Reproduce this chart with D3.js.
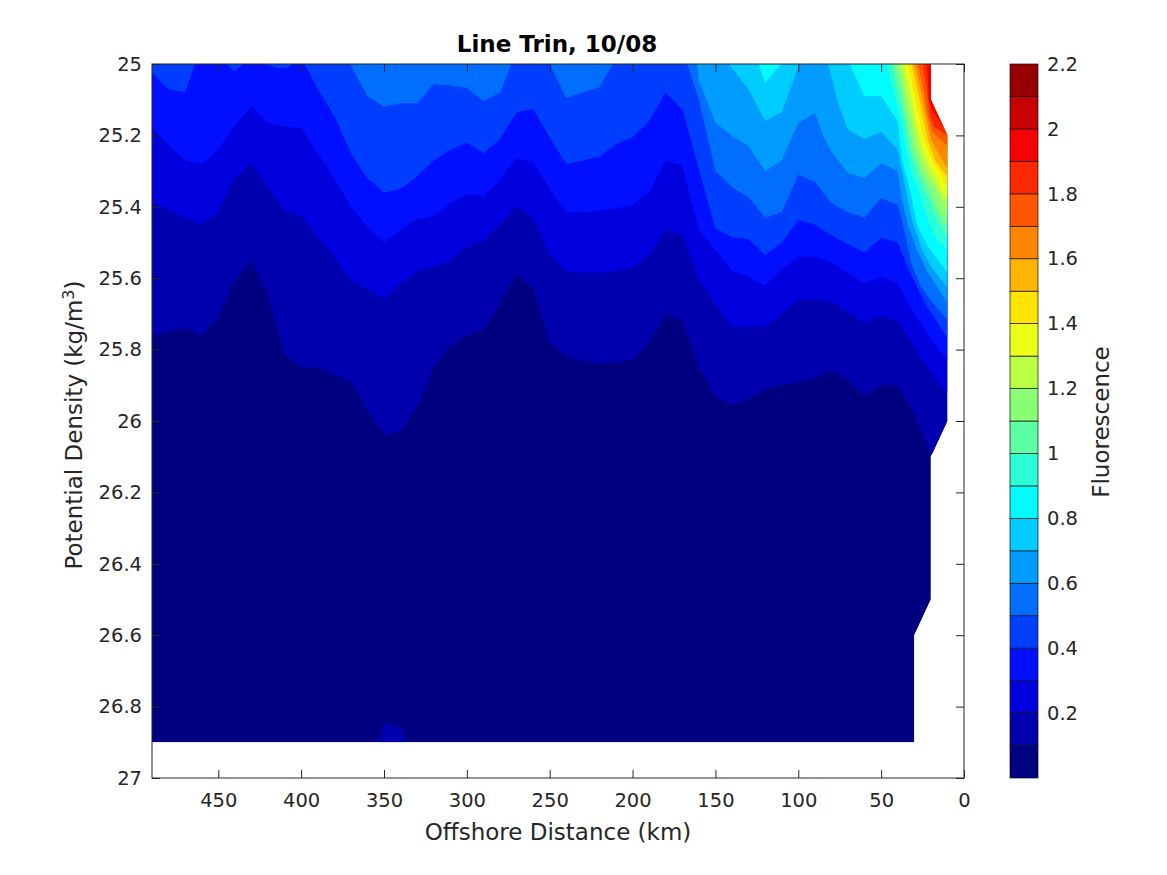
<!DOCTYPE html>
<html>
<head>
<meta charset="utf-8">
<script src="https://cdn.jsdelivr.net/npm/d3@7"></script>
<style>
  html, body { margin: 0; background: #fff; }
  svg { display: block; font-family: "DejaVu Sans", sans-serif; }
  .axis text { fill: #262626; font-size: 19.5px; font-family: "DejaVu Sans", sans-serif; }
  .axis path, .axis line { stroke: #262626; stroke-width: 1; }
</style>
</head>
<body>
<svg id="chart" width="1167" height="875"></svg>
<script>
// ----------- DATA -----------
// all contours are [offshore distance km, potential density]
const xTicks = [450, 400, 350, 300, 250, 200, 150, 100, 50, 0];
const yTicks = [25, 25.2, 25.4, 25.6, 25.8, 26, 26.2, 26.4, 26.6, 26.8, 27];
const cbTicks = [0.2, 0.4, 0.6, 0.8, 1, 1.2, 1.4, 1.6, 1.8, 2, 2.2];
const cbEdges = [0, 0.1, 0.2, 0.3, 0.4, 0.5, 0.6, 0.7, 0.8, 0.9, 1, 1.1, 1.2, 1.3, 1.4, 1.5, 1.6, 1.7, 1.8, 1.9, 2, 2.1, 2.2];

// where the section has data
const domainOutline = [[490,25],[20,25],[20,25.1],[10,25.2],[10,26],[20,26.1],[20,26.5],[30,26.6],[30,26.9],[490,26.9]];

// small patch of higher values at the bottom
const bottomPatch = [[353.6,26.9],[349.4,26.846],[338.6,26.86],[337.4,26.9]];

const contour01 = [[[490,25.76],[480,25.75],[470,25.74],[460,25.76],[450,25.71],[440,25.61],[430,25.55],[420,25.65],[410,25.81],[400,25.85],[390,25.85],[380,25.87],[370,25.89],[360,25.97],[350,26.04],[340,26.03],[330,25.96],[320,25.85],[310,25.79],[300,25.76],[290,25.745],[280,25.67],[270,25.59],[260,25.63],[250,25.78],[240,25.82],[230,25.83],[220,25.84],[210,25.835],[200,25.83],[190,25.78],[180,25.70],[170,25.72],[160,25.85],[150,25.93],[140,25.955],[130,25.94],[120,25.91],[110,25.90],[100,25.89],[90,25.88],[80,25.86],[70,25.885],[60,25.93],[50,25.90],[40,25.90],[30,25.98],[20,26.09],[10,26.15]]];

const contour02 = [[[490,25.39],[480,25.41],[470,25.43],[460,25.45],[450,25.415],[440,25.32],[430,25.28],[420,25.345],[410,25.41],[400,25.425],[390,25.485],[380,25.54],[370,25.605],[360,25.63],[350,25.66],[340,25.615],[330,25.58],[320,25.57],[310,25.55],[300,25.51],[290,25.495],[280,25.45],[270,25.40],[260,25.43],[250,25.535],[240,25.58],[230,25.585],[220,25.585],[210,25.58],[200,25.57],[190,25.535],[180,25.465],[170,25.48],[160,25.605],[150,25.675],[140,25.735],[130,25.735],[120,25.735],[110,25.70],[100,25.66],[90,25.66],[80,25.665],[70,25.695],[60,25.725],[50,25.705],[40,25.72],[30,25.795],[20,25.865],[10,25.92]]];

const contour03 = [[[490,25.18],[480,25.225],[470,25.27],[460,25.28],[450,25.24],[440,25.17],[430,25.12],[420,25.165],[410,25.175],[400,25.18],[390,25.25],[380,25.32],[370,25.40],[360,25.455],[350,25.50],[340,25.465],[330,25.435],[320,25.425],[310,25.39],[300,25.365],[290,25.37],[280,25.325],[270,25.265],[260,25.275],[250,25.35],[240,25.415],[230,25.415],[220,25.41],[210,25.405],[200,25.395],[190,25.36],[180,25.27],[170,25.285],[160,25.465],[150,25.52],[140,25.58],[130,25.595],[120,25.62],[110,25.575],[100,25.54],[90,25.54],[80,25.555],[70,25.585],[60,25.615],[50,25.595],[40,25.615],[30,25.70],[20,25.77],[10,25.83]]];

const contour04 = [
  [[490,25.025],[480,25.07],[470,25.08],[464,25]],
  [[445,25],[440,25.02],[435,25]],
  [[422,25],[414,25.012],[408,25.01],[405,25]],
  [[398,25],[390,25.07],[380,25.145],[370,25.25],[360,25.32],[350,25.36],[340,25.35],[330,25.315],[320,25.27],[310,25.24],[300,25.22],[290,25.25],[280,25.21],[270,25.135],[260,25.125],[250,25.205],[240,25.28],[230,25.27],[220,25.26],[210,25.225],[200,25.205],[190,25.16],[180,25.08],[170,25.125],[160,25.295],[150,25.46],[140,25.485],[130,25.49],[120,25.535],[110,25.50],[100,25.437],[90,25.45],[80,25.48],[70,25.505],[60,25.527],[50,25.487],[40,25.50],[32.6,25.585],[22.3,25.68],[10,25.767]]
];

const contour05 = [
  [[370.5,25],[360,25.09],[350,25.12],[340,25.11],[330,25.11],[320,25.056],[310,25.06],[300,25.067],[290,25.104],[280,25.08],[273,25]],
  [[250,25],[240,25.095],[230,25.08],[220,25.065],[212,25]],
  [[167,25],[160,25.10],[150,25.30],[140,25.345],[130,25.373],[120,25.43],[110,25.415],[100,25.31],[90,25.33],[80,25.39],[70,25.415],[60,25.43],[50,25.375],[40,25.395],[36.8,25.45],[32,25.555],[26.6,25.62],[18.7,25.67],[10,25.717]]
];

const contour06 = [[[161,25],[160,25.045],[150,25.165],[140,25.20],[130,25.23],[120,25.30],[110,25.27],[100,25.165],[90,25.137],[85,25.2],[80,25.245],[70,25.305],[60,25.32],[50,25.277],[40,25.30],[37.4,25.38],[33.8,25.45],[28.4,25.52],[23.5,25.57],[10,25.67]]];

const contour07 = [
  [[142,25],[130,25.07],[120,25.16],[110,25.135],[100,25.008],[99,25]],
  [[82,25],[76,25.11],[70,25.185],[60,25.21],[50,25.19],[40,25.24],[35.6,25.34],[31.4,25.437],[25.3,25.52],[20.5,25.563],[10,25.627]]
];

const contour08 = [
  [[124,25],[120,25.053],[110.5,25]],
  [[69,25],[60,25.09],[50,25.09],[40,25.16],[37.4,25.27],[32.6,25.353],[28.4,25.45],[22.3,25.507],[10,25.585]]
];

const contour09 = [[[47,25],[42.2,25.08],[38.6,25.148],[35,25.24],[31.4,25.31],[27.8,25.353],[22.3,25.43],[16.3,25.493],[10,25.52]]];
const contour10 = [[[43.5,25],[39.8,25.08],[36.2,25.148],[32.6,25.24],[27.8,25.31],[23.5,25.353],[17.5,25.423],[10,25.485]]];
const contour11 = [[[41,25],[37.4,25.08],[34.4,25.148],[30.8,25.235],[25.3,25.31],[20.5,25.353],[15.1,25.415],[10,25.45]]];
const contour12 = [[[38.6,25],[35,25.08],[32,25.148],[28.4,25.227],[22.9,25.303],[15.7,25.353],[10,25.415]]];
const contour13 = [[[36.2,25],[32.6,25.08],[29.6,25.148],[26.6,25.213],[21.1,25.283],[14.5,25.345],[10,25.38]]];
const contour14 = [[[33.8,25],[30.2,25.08],[27.2,25.148],[24.1,25.213],[19.3,25.27],[13.9,25.31],[10,25.347]]];
const contour15 = [[[31.4,25],[27.8,25.08],[24.7,25.148],[21.7,25.213],[17.5,25.27],[10,25.317]]];
const contour16 = [[[29.6,25],[26,25.08],[22.9,25.148],[19.9,25.213],[10,25.291]]];
const contour17 = [[[27.8,25],[24.1,25.08],[21.7,25.148],[19.3,25.19],[10,25.23]]];
const contour18 = [[[24.7,25],[22.3,25.08],[20.5,25.148],[18,25.176],[10,25.2]]];
const contour19 = [[[22.3,25],[21.1,25.1],[19.3,25.13],[14.5,25.162],[10,25.19]]];

// index + 1 is the band the region above the contour starts at
const contours = [contour01, contour02, contour03, contour04, contour05, contour06, contour07, contour08, contour09, contour10,
  contour11, contour12, contour13, contour14, contour15, contour16, contour17, contour18, contour19];

// ----------- SCALES -----------
const x = d3.scaleLinear().domain([490, 0]).range([152, 964]);
const y = d3.scaleLinear().domain([25, 27]).range([64, 778]);
const cb = d3.scaleLinear().domain([0, 2.2]).range([778, 64]);

function clamp(v) { return Math.max(0, Math.min(1, v)); }

// jet colormap cut into 22 flat bands
function bandColor(i) {
  const t = i / 21.5;
  const r = clamp(1.5 - Math.abs(4 * t - 3));
  const g = clamp(1.5 - Math.abs(4 * t - 2));
  const b = clamp(1.5 - Math.abs(4 * t - 1));
  return d3.rgb(r * 255, g * 255, b * 255).formatHex();
}

const line = d3.line().x(d => x(d[0])).y(d => y(d[1]));

// ----------- CONTOUR FILLS -----------
const svg = d3.select("#chart");

svg.append("clipPath").attr("id", "domainClip")
  .append("path").attr("d", line(domainOutline) + "Z");

const fills = svg.append("g").attr("clip-path", "url(#domainClip)");

fills.append("path")
  .attr("d", line(domainOutline) + "Z")
  .attr("fill", bandColor(0));

fills.append("path")
  .attr("d", line(bottomPatch) + "Z")
  .attr("fill", bandColor(1));

contours.forEach((pieces, i) => {
  pieces.forEach(piece => {
    // close along the top of the section
    const closed = piece.concat([[piece[piece.length - 1][0], 25], [piece[0][0], 25]]);
    fills.append("path")
      .attr("d", line(closed) + "Z")
      .attr("fill", bandColor(i + 1));
  });
});

// ----------- AXES -----------
const tickLen = 8;

svg.append("g").attr("class", "axis")
  .attr("transform", "translate(0,778)")
  .call(d3.axisBottom(x).tickValues(xTicks).tickSize(-tickLen).tickPadding(15).tickFormat(d => d));

svg.append("g").attr("class", "axis")
  .attr("transform", "translate(0,64)")
  .call(d3.axisTop(x).tickValues(xTicks).tickSize(-tickLen).tickFormat(""));

svg.append("g").attr("class", "axis")
  .attr("transform", "translate(152,0)")
  .call(d3.axisLeft(y).tickValues(yTicks).tickSize(-tickLen).tickPadding(10).tickFormat(d => d));

svg.append("g").attr("class", "axis")
  .attr("transform", "translate(964,0)")
  .call(d3.axisRight(y).tickValues(yTicks).tickSize(-tickLen).tickFormat(""));

svg.selectAll(".axis path.domain").remove();

svg.append("rect")
  .attr("x", x(490)).attr("y", y(25))
  .attr("width", x(0) - x(490)).attr("height", y(27) - y(25))
  .attr("fill", "none").attr("stroke", "#262626");

// ----------- COLORBAR -----------
const cbLeft = 1010;
const cbWidth = 28;

svg.append("g").selectAll("rect")
  .data(d3.pairs(cbEdges))
  .enter()
  .append("rect")
  .attr("x", cbLeft)
  .attr("y", d => cb(d[1]))
  .attr("width", cbWidth)
  .attr("height", d => cb(d[0]) - cb(d[1]))
  .attr("fill", (d, i) => bandColor(i))
  .attr("stroke", "#111")
  .attr("stroke-width", 0.7);

svg.append("g").attr("class", "axis")
  .attr("transform", `translate(${cbLeft + cbWidth},0)`)
  .call(d3.axisRight(cb).tickValues(cbTicks).tickSize(0).tickPadding(9).tickFormat(d => d))
  .select(".domain").remove();

// ----------- TEXT -----------
svg.append("text")
  .attr("x", 557).attr("y", 52)
  .attr("text-anchor", "middle")
  .attr("font-size", 23).attr("font-weight", "bold").attr("fill", "#000")
  .text("Line Trin, 10/08");

svg.append("text")
  .attr("x", 558).attr("y", 840)
  .attr("text-anchor", "middle")
  .attr("font-size", 23).attr("fill", "#262626")
  .text("Offshore Distance (km)");

const yLabel = svg.append("text")
  .attr("transform", "translate(82,425) rotate(-90)")
  .attr("text-anchor", "middle")
  .attr("font-size", 23).attr("fill", "#262626");
yLabel.append("tspan").text("Potential Density (kg/m");
yLabel.append("tspan").attr("dy", -8).attr("font-size", 16).text("3");
yLabel.append("tspan").attr("dy", 8).text(")");

svg.append("text")
  .attr("transform", "translate(1109,422) rotate(-90)")
  .attr("text-anchor", "middle")
  .attr("font-size", 23).attr("fill", "#262626")
  .text("Fluorescence");
</script>
</body>
</html>
